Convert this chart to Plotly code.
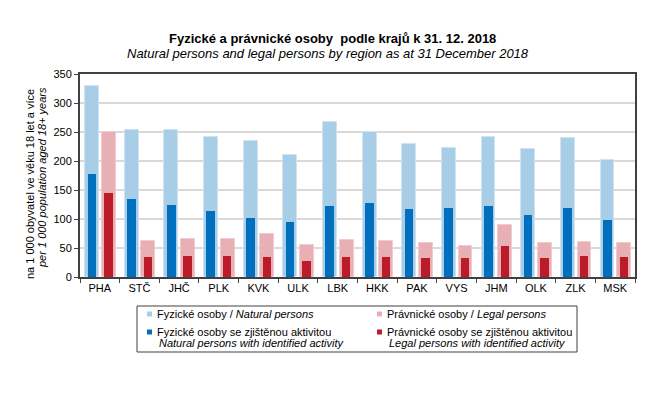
import plotly.graph_objects as go

regions = ["PHA", "STČ", "JHČ", "PLK", "KVK", "ULK", "LBK", "HKK", "PAK", "VYS", "JHM", "OLK", "ZLK", "MSK"]
natural = [330, 253, 253, 241, 234, 210, 267, 250, 229, 222, 241, 220, 239, 201]
natural_active = [177, 134, 125, 113, 101, 94, 122, 127, 117, 119, 122, 107, 119, 98]
legal = [250, 62, 65, 65, 75, 55, 63, 62, 58, 53, 89, 58, 60, 58]
legal_active = [145, 34, 37, 36, 34, 27, 34, 34, 32, 32, 53, 32, 36, 34]
y_ticks = [0, 50, 100, 150, 200, 250, 300, 350]

C_LB = "#A8CDE7"
C_DB = "#0070BE"
C_PK = "#E8B0B4"
C_RD = "#BE1B2A"

OFF = 8  # page body margin
W, H = 664, 398
L, R, T, B = 80, 635, 74, 277
FONT = "Liberation Sans, Arial, sans-serif"


def px(x):
    return (x - L) / (R - L)


def py(y):
    return (B - y) / (B - T)


fig = go.Figure()
fig.add_trace(go.Bar(x=regions, y=natural, offset=-0.37, width=0.35,
                     marker=dict(color=C_LB, line=dict(color="#CFE3F2", width=1)),
                     name="Fyzické osoby"))
fig.add_trace(go.Bar(x=regions, y=legal, offset=0.05, width=0.35,
                     marker=dict(color=C_PK, line=dict(color="#F0CCCF", width=1)),
                     name="Právnické osoby"))
fig.add_trace(go.Bar(x=regions, y=natural_active, offset=-0.31, width=0.22,
                     marker=dict(color=C_DB, line=dict(width=0)),
                     name="Fyzické osoby se zjištěnou aktivitou"))
fig.add_trace(go.Bar(x=regions, y=legal_active, offset=0.11, width=0.21,
                     marker=dict(color=C_RD, line=dict(width=0)),
                     name="Právnické osoby se zjištěnou aktivitou"))

shapes = []
annotations = []

# Title
annotations.append(dict(text="<b>Fyzické a právnické osoby  podle krajů k 31. 12. 2018</b>",
                        xref="paper", yref="paper", x=px(332), y=py(38), showarrow=False,
                        xanchor="center", yanchor="middle",
                        font=dict(family=FONT, size=13, color="black")))
annotations.append(dict(text="<i>Natural persons and legal persons by region as at 31 December 2018</i>",
                        xref="paper", yref="paper", x=px(328), y=py(53.5), showarrow=False,
                        xanchor="center", yanchor="middle",
                        font=dict(family=FONT, size=13, color="black")))

# Y-axis title (two lines)
annotations.append(dict(text="na 1 000 obyvatel ve věku 18 let a více",
                        xref="paper", yref="paper", x=px(30), y=py(184), showarrow=False,
                        textangle=-90, xanchor="center", yanchor="middle",
                        font=dict(family=FONT, size=11, color="black")))
annotations.append(dict(text="<i>per 1 000 population aged 18+ years</i>",
                        xref="paper", yref="paper", x=px(42), y=py(178), showarrow=False,
                        textangle=-90, xanchor="center", yanchor="middle",
                        font=dict(family=FONT, size=11, color="black")))

# Legend box
shapes.append(dict(type="rect", xref="paper", yref="paper",
                   x0=px(137), x1=px(577), y0=py(306), y1=py(352),
                   line=dict(color="#404040", width=1), fillcolor="white"))

legend_items = [
    (147, 314, C_LB, "Fyzické osoby / <i>Natural persons</i>", None),
    (377, 314, C_PK, "Právnické osoby / <i>Legal persons</i>", None),
    (147, 332, C_DB, "Fyzické osoby se zjištěnou aktivitou", "<i>Natural persons with identified activity</i>"),
    (377, 332, C_RD, "Právnické osoby se zjištěnou aktivitou", "<i>Legal persons with identified activity</i>"),
]
for sx, sy, col, txt, txt2 in legend_items:
    shapes.append(dict(type="rect", xref="paper", yref="paper",
                       x0=px(sx), x1=px(sx + 5), y0=py(sy - 2.5), y1=py(sy + 2.5),
                       line=dict(width=0), fillcolor=col))
    annotations.append(dict(text=txt, xref="paper", yref="paper",
                            x=px(sx + 8), y=py(sy), showarrow=False,
                            xanchor="left", yanchor="middle",
                            font=dict(family=FONT, size=11, color="black")))
    if txt2:
        annotations.append(dict(text=txt2, xref="paper", yref="paper",
                                x=px(sx + 10), y=py(sy + 11), showarrow=False,
                                xanchor="left", yanchor="middle",
                                font=dict(family=FONT, size=11, color="black")))

fig.update_layout(
    width=W - OFF, height=H - OFF,
    margin=dict(l=L - OFF, r=W - R, t=T - OFF, b=H - B, pad=0),
    barmode="overlay",
    showlegend=False,
    plot_bgcolor="white",
    paper_bgcolor="white",
    font=dict(family=FONT, size=11, color="black"),
    shapes=shapes,
    annotations=annotations,
    bargap=0,
)
fig.update_xaxes(
    type="category", range=[-0.5, 13.5],
    showline=True, linecolor="#404040", linewidth=2, mirror=True,
    ticks="outside", tickson="boundaries", ticklen=4, tickcolor="#404040", tickwidth=1,
    showgrid=False, tickfont=dict(family=FONT, size=11, color="black"),
)
fig.update_yaxes(
    range=[0, 350], tickvals=y_ticks,
    showline=True, linecolor="#404040", linewidth=2, mirror=True,
    ticks="outside", ticklen=4, tickcolor="#404040", tickwidth=1,
    showgrid=True, gridcolor="#D9D9D9", gridwidth=2,
    zeroline=False,
    tickfont=dict(family=FONT, size=11, color="black"),
)

fig.write_html("out.html")
